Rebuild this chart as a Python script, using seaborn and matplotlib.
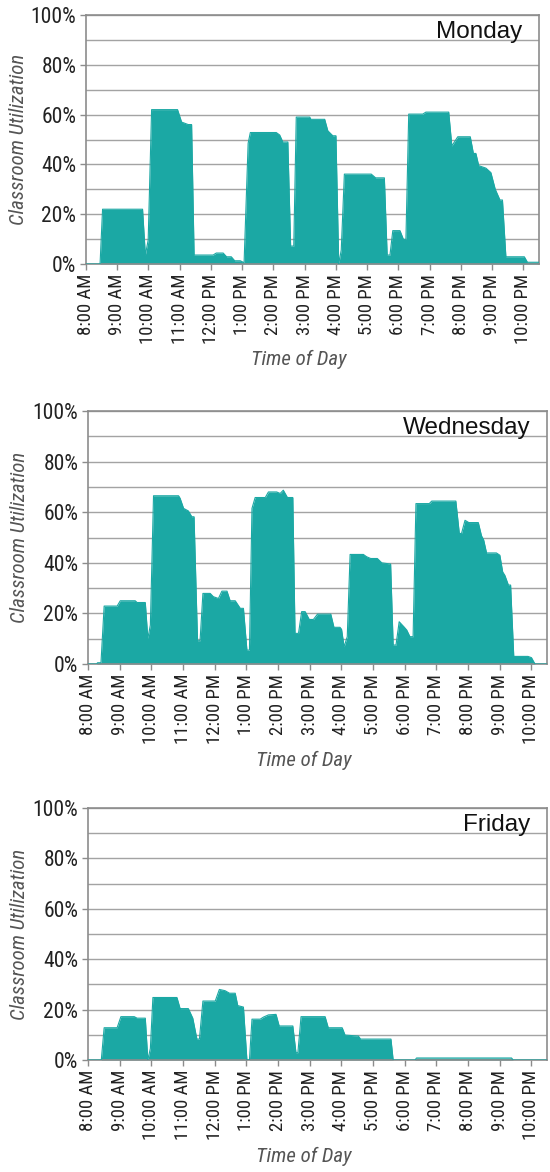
import matplotlib
matplotlib.use("Agg")
import matplotlib.pyplot as plt
import seaborn as sns
from matplotlib.ticker import MultipleLocator, FuncFormatter

# hour of day (decimal) and utilisation in percent
mon_hours = [8.0, 8.45, 8.53, 9.81, 9.9, 9.99, 10.1, 10.93, 11.06, 11.27,
             11.38, 11.46, 12.07, 12.17, 12.39, 12.5, 12.65, 12.76, 12.94, 13.06,
             13.19, 13.26, 14.09, 14.2, 14.3, 14.46, 14.55, 14.65, 14.73, 15.16,
             15.2, 15.64, 15.74, 15.9, 16.0, 16.09, 16.17, 16.27, 17.13, 17.27,
             17.55, 17.64, 17.73, 17.82, 18.05, 18.16, 18.24, 18.33, 18.78, 18.88,
             19.61, 19.71, 19.9, 20.3, 20.4, 20.48, 20.57, 20.8, 20.96, 21.1,
             21.25, 21.33, 21.44, 22.03, 22.13, 22.5]
mon_util = [0, 0, 22, 22, 3.6, 9.6, 62, 62, 57, 56,
            56, 3.6, 3.6, 4.4, 4.4, 2.9, 2.9, 1.3, 1.3, 0.5,
            48.5, 52.8, 52.8, 51.8, 49, 49, 7.2, 7.2, 59, 59,
            58.1, 58.1, 53.5, 51.5, 51.5, 0, 5.6, 36.1, 36.1, 34.6,
            34.6, 3.6, 3.6, 13.4, 13.4, 9.9, 9.9, 60.2, 60.2, 61,
            61, 47.4, 51.1, 51.1, 44.4, 44.4, 39.5, 38.5, 36.7, 30,
            25.7, 25.7, 2.9, 2.9, 0.7, 0.7]

wed_hours = [8.0, 8.28, 8.3, 8.41, 8.51, 8.92, 9.02, 9.49, 9.55, 9.81,
             9.89, 9.97, 10.07, 10.86, 10.91, 11.02, 11.17, 11.28, 11.35, 11.46,
             11.54, 11.63, 11.86, 11.96, 12.12, 12.23, 12.39, 12.49, 12.65, 12.81,
             12.91, 13.02, 13.1, 13.18, 13.28, 13.6, 13.7, 13.96, 14.07, 14.17,
             14.3, 14.47, 14.54, 14.65, 14.75, 14.86, 14.99, 15.12, 15.25, 15.67,
             15.77, 15.96, 16.01, 16.09, 16.19, 16.28, 16.7, 16.8, 16.93, 17.14,
             17.28, 17.56, 17.64, 17.73, 17.83, 17.98, 18.07, 18.17, 18.27, 18.36,
             18.78, 18.86, 19.62, 19.73, 19.8, 19.91, 20.03, 20.33, 20.43, 20.5,
             20.59, 20.9, 21.01, 21.1, 21.17, 21.28, 21.35, 21.45, 21.9, 22.01,
             22.12, 22.5]
wed_util = [0, 0, 0.5, 0.5, 22.9, 22.9, 25, 25, 24.3, 24.3,
            10.1, 15.4, 66.5, 66.5, 65.5, 61.5, 60.5, 58.2, 58.2, 9.2,
            9.2, 27.9, 27.9, 26.6, 25.9, 28.8, 28.8, 25, 25, 22,
            22, 5.5, 5.5, 61.5, 65.8, 65.8, 68, 68, 67.4, 68.7,
            65.8, 65.8, 12.1, 12.1, 20.7, 20.7, 17.6, 17.6, 19.7, 19.7,
            14.5, 14.5, 13.7, 6.8, 10.8, 43.3, 43.3, 42.4, 41.7, 41.7,
            40, 39.5, 7.5, 7.5, 16.7, 14.7, 13.4, 10.8, 10.8, 63.4,
            63.4, 64.4, 64.4, 51.6, 51.6, 56.8, 55.9, 55.9, 50.7, 49,
            43.9, 43.9, 43, 36.4, 35, 31.2, 31.2, 3, 3, 2.5,
            0, 0]

fri_hours = [8.0, 8.42, 8.51, 8.92, 9.04, 9.46, 9.55, 9.81, 9.89, 9.97,
             10.05, 10.81, 10.91, 11.17, 11.31, 11.44, 11.52, 11.63, 12.02, 12.15,
             12.33, 12.47, 12.65, 12.73, 12.91, 13.02, 13.1, 13.18, 13.44, 13.54,
             13.7, 13.94, 14.04, 14.47, 14.57, 14.63, 14.73, 15.49, 15.59, 16.03,
             16.12, 16.54, 16.61, 17.57, 17.64, 18.33, 18.38, 21.38, 21.43, 22.5]
fri_util = [0, 0, 12.8, 12.8, 17.2, 17.2, 16.6, 16.6, 0, 4.6,
            24.8, 24.8, 20.4, 20.4, 16.6, 8.3, 8.3, 23.4, 23.4, 28,
            27.5, 26.5, 26.5, 21.6, 21, 0, 0, 16.2, 16.2, 17,
            17.9, 18.1, 13.5, 13.5, 2.9, 2.9, 17.2, 17.2, 12.8, 12.8,
            9.9, 9.5, 8.3, 8.3, 0, 0, 0.8, 0.8, 0, 0]

days = ["Monday", "Wednesday", "Friday"]
tick_hours = list(range(8, 23))
tick_labels = ["8:00 AM", "9:00 AM", "10:00 AM", "11:00 AM", "12:00 PM",
               "1:00 PM", "2:00 PM", "3:00 PM", "4:00 PM", "5:00 PM",
               "6:00 PM", "7:00 PM", "8:00 PM", "9:00 PM", "10:00 PM"]

teal = "#1ba8a4"
grid_gray = "#a3a3a3"

sns.set_style("white")
plt.rcParams["font.family"] = ["Roboto Condensed", "Archivo Narrow",
                               "DejaVu Sans"]

W, H = 550, 1172
fig = plt.figure(figsize=(W / 100, H / 100), dpi=100)

# axes boxes in pixels: left, right, top, bottom
boxes = [(86, 539, 15, 264), (88, 547, 411, 664), (88, 547, 808, 1060)]
series = [(mon_hours, mon_util), (wed_hours, wed_util), (fri_hours, fri_util)]

for (l, r, t, b), (hrs, util), day in zip(boxes, series, days):
    ax = fig.add_axes([l / W, 1 - b / H, (r - l) / W, (b - t) / H])
    ax.fill_between(hrs, util, 0, color=teal, lw=0, zorder=2)
    sns.lineplot(x=hrs, y=util, ax=ax, color=teal, lw=0.8, zorder=3)

    ax.set_xlim(8, 22.5)
    ax.set_ylim(0, 100)
    ax.yaxis.set_major_locator(MultipleLocator(20))
    ax.yaxis.set_minor_locator(MultipleLocator(10))
    ax.yaxis.set_major_formatter(FuncFormatter(lambda v, p: f"{v:.0f}%"))
    ax.grid(axis="y", which="both", color=grid_gray, lw=1.0, zorder=1)
    ax.set_axisbelow(True)

    ax.set_xticks(tick_hours)
    ax.set_xticklabels(tick_labels, rotation=90, fontsize=13.5,
                       color="#222222")
    ax.tick_params(axis="x", length=4, width=1, color="#8c8c8c", pad=3,
                   bottom=True)
    ax.tick_params(axis="y", which="major", length=4, width=1,
                   color="#8c8c8c", pad=3, labelsize=15.5, labelcolor="#222222",
                   left=True)
    ax.tick_params(axis="y", which="minor", length=0)

    for s in ax.spines.values():
        s.set_visible(True)
        s.set_color("#8c8c8c")
        s.set_linewidth(1.2)

    ax.set_ylabel("Classroom Utilization", fontsize=15, style="italic",
                  color="#555555")
    ax.yaxis.set_label_coords(-0.128, 0.5)
    ax.set_xlabel("Time of Day", fontsize=15, style="italic", color="#555555")
    ax.xaxis.set_label_coords(0.47, -0.345)

    ax.text(0.964, 0.975, day, transform=ax.transAxes, ha="right", va="top",
            fontsize=17.5, color="#111111",
            family=["Liberation Sans", "DejaVu Sans"], zorder=5)

fig.savefig("out.png", dpi=100)
